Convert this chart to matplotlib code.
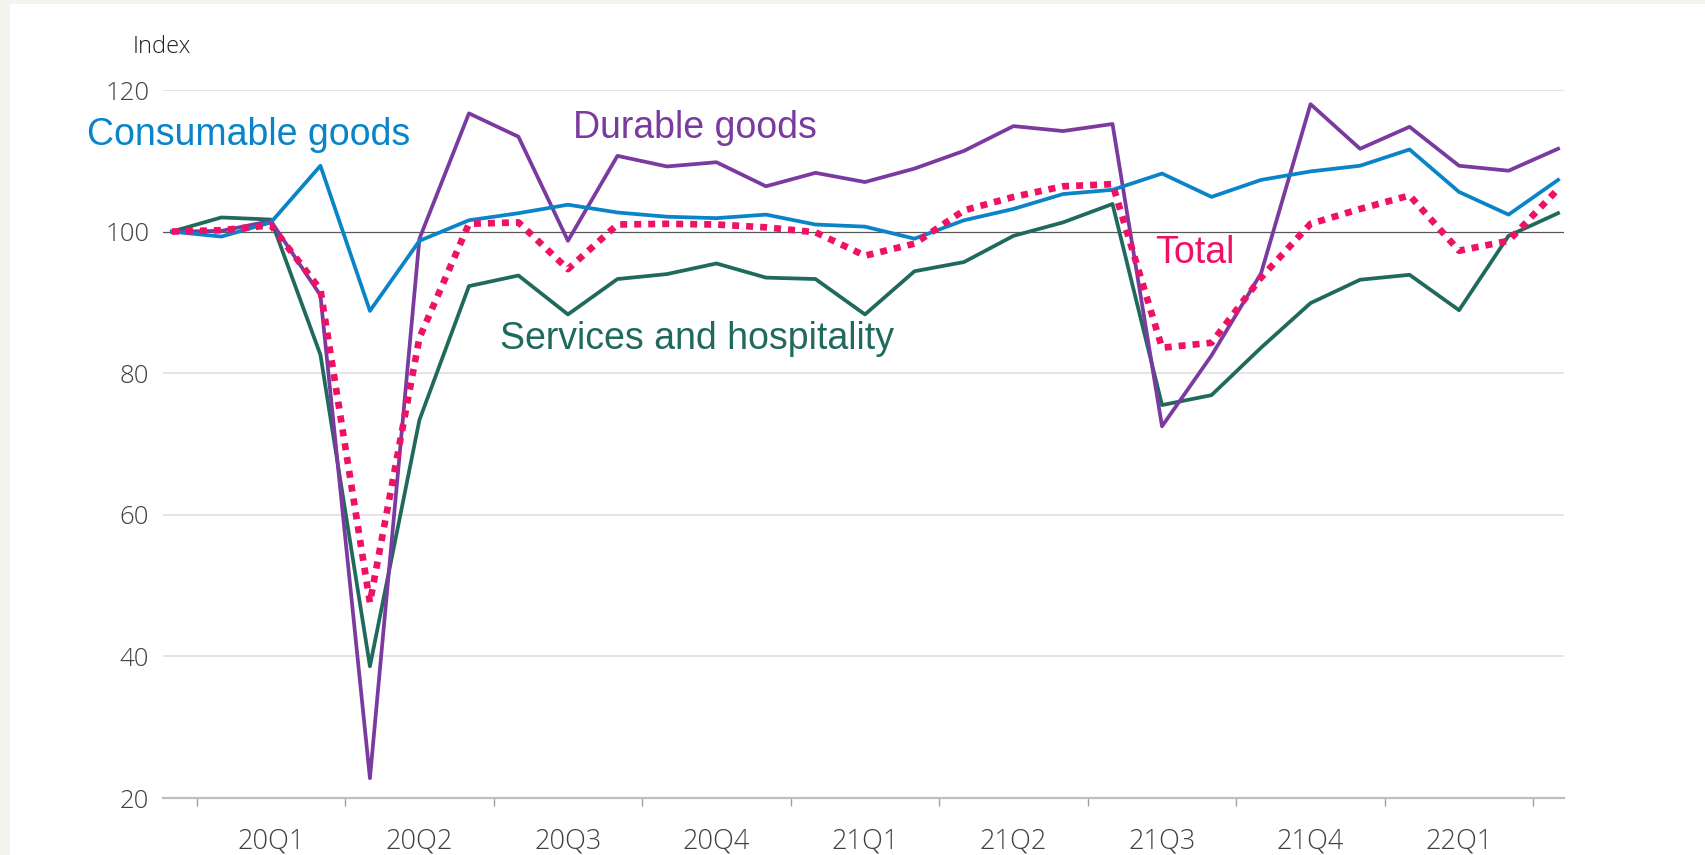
#!/usr/bin/env python3
"""Consumer spending index by category, monthly Dec 2019 - Apr 2022."""

import matplotlib
matplotlib.use('Agg')
import matplotlib.pyplot as plt
from matplotlib.patches import Rectangle

# Monthly index values, Dec 2019 = 100 (Dec19 ... Apr22)
consumable = [100, 99.3, 101.3, 109.3, 88.8, 98.7, 101.6, 102.6, 103.8,
              102.7, 102.1, 101.9, 102.4, 101.0, 100.7, 99.0, 101.6, 103.2,
              105.3, 105.9, 108.2, 104.9, 107.3, 108.5, 109.3, 111.6, 105.6,
              102.4, 107.3]
durable = [100, 100.1, 101.5, 91.0, 22.8, 99.0, 116.7, 113.4, 98.7,
           110.7, 109.2, 109.8, 106.4, 108.3, 107.0, 108.9, 111.4, 114.9,
           114.2, 115.2, 72.5, 82.5, 94.1, 118.0, 111.7, 114.8, 109.3,
           108.6, 111.7]
services = [100, 102.0, 101.7, 82.6, 38.6, 73.4, 92.3, 93.8, 88.3,
            93.3, 94.0, 95.5, 93.5, 93.3, 88.3, 94.4, 95.7, 99.4,
            101.3, 103.9, 75.5, 76.9, 83.6, 89.9, 93.2, 93.9, 88.9,
            99.4, 102.6]
total = [100, 100.2, 100.9, 91.8, 47.6, 85.0, 101.1, 101.3, 94.7,
         101.0, 101.1, 101.0, 100.6, 99.9, 96.6, 98.3, 103.0, 104.9,
         106.4, 106.7, 83.6, 84.3, 93.5, 101.1, 103.2, 105.1, 97.3,
         98.7, 106.0]
quarters = ['20Q1', '20Q2', '20Q3', '20Q4', '21Q1', '21Q2', '21Q3', '21Q4', '22Q1']

BLUE = '#0a84c8'
PURPLE = '#7a3aa0'
GREEN = '#1f6a5c'
PINK = '#ee1166'
TICK_COL = '#404040'

x = list(range(len(total)))

fig = plt.figure(figsize=(17.06, 8.55), dpi=100, facecolor='#f4f3ed')
fig.patches.append(Rectangle((10 / 1706, 0), 1, 1 - 4 / 855, transform=fig.transFigure,
                             facecolor='white', edgecolor='none', zorder=-10))
ax = fig.add_axes([163 / 1706, 57 / 855, (1564 - 163) / 1706, (798 - 90) / 855])
ax.set_facecolor('white')

# gridlines
for v in [40, 60, 80, 120]:
    ax.axhline(v, color='#dedede', lw=1.1, zorder=0)
ax.axhline(100, color='#595959', lw=0.9, zorder=1)

ax.plot(x, services, color=GREEN, lw=2.7, zorder=3)
ax.plot(x, durable, color=PURPLE, lw=2.7, zorder=3)
ax.plot(x, consumable, color=BLUE, lw=2.7, zorder=4)
ax.plot(x, total, color=PINK, lw=4.8, linestyle=(0, (1.05, 1.05)),
        dash_capstyle='butt', zorder=5)

ax.set_xlim(-0.18, 28.12)
ax.set_ylim(20, 120)

for s in ['top', 'right', 'left']:
    ax.spines[s].set_visible(False)
ax.spines['bottom'].set_color('#bfbfbf')
ax.spines['bottom'].set_linewidth(1.6)

tick_font = dict(family=['Open Sans', 'DejaVu Sans'], weight='light')
ax.set_yticks([20, 40, 60, 80, 100, 120])
ax.set_yticklabels(['20', '40', '60', '80', '100', '120'], fontsize=18.5,
                   color=TICK_COL, **tick_font)
ax.tick_params(axis='y', length=0, pad=10)

# quarter boundaries as ticks, quarter names centred on the middle month
ax.set_xticks([0.5 + 3 * k for k in range(10)])
ax.set_xticklabels([])
ax.tick_params(axis='x', which='major', length=6, width=1, color='#a0a0a0')
ax.set_xticks([2 + 3 * k for k in range(len(quarters))], minor=True)
ax.set_xticklabels(quarters, minor=True, fontsize=19.5, color=TICK_COL, **tick_font)
ax.tick_params(axis='x', which='minor', length=0, pad=21)

ax.text(-0.79, 125.2, 'Index', fontsize=17, color='#202020', ha='left',
        va='baseline', clip_on=False, **tick_font)

lab = dict(fontsize=27, family=['Liberation Sans', 'DejaVu Sans'], ha='left',
           va='baseline', clip_on=False)
ax.text(-1.72, 112.2, 'Consumable goods', color=BLUE, **lab)
ax.text(8.1, 113.2, 'Durable goods', color=PURPLE, **lab)
ax.text(6.63, 83.45, 'Services and hospitality', color=GREEN, **lab)
ax.text(19.86, 95.5, 'Total', color=PINK, **lab)

fig.savefig('out.png', dpi=100, facecolor=fig.get_facecolor())
